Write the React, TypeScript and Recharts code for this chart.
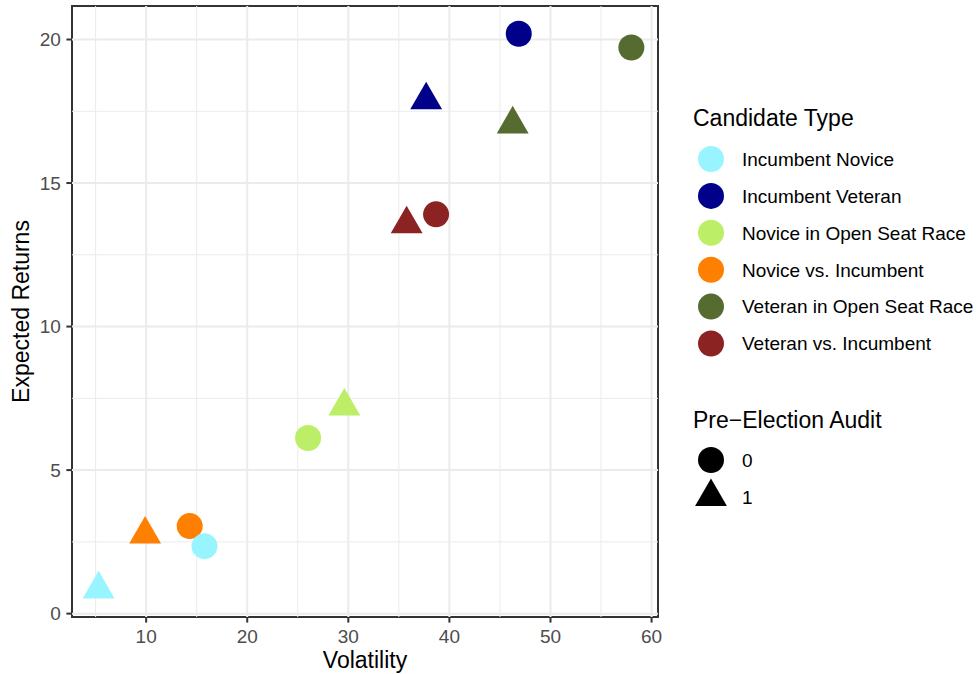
import React from 'react';
import { ScatterChart, Scatter, XAxis, YAxis, ReferenceLine, ReferenceArea } from 'recharts';

const categories = [
  'Incumbent Novice',
  'Incumbent Veteran',
  'Novice in Open Seat Race',
  'Novice vs. Incumbent',
  'Veteran in Open Seat Race',
  'Veteran vs. Incumbent',
];
const colors = ['#98F5FF', '#00008B', '#BCEE68', '#FF7F00', '#556B2F', '#8B2323'];

// Pre-Election Audit = 0 (circles)
const volatilityNoAudit = [15.77, 46.86, 26.02, 14.31, 58.0, 38.68];
const returnsNoAudit = [2.35, 20.2, 6.12, 3.05, 19.72, 13.91];
// Pre-Election Audit = 1 (triangles)
const volatilityAudit = [5.3, 37.7, 29.61, 9.9, 46.26, 35.77];
const returnsAudit = [0.85, 17.89, 7.22, 2.76, 17.05, 13.57];

const auditLevels = ['0', '1'];
const drawOrder = [3, 0, 1, 2, 4, 5];

const xTicks = [10, 20, 30, 40, 50, 60];
const xMinor = [5, 15, 25, 35, 45, 55];
const yTicks = [0, 5, 10, 15, 20];
const yMinor = [2.5, 7.5, 12.5, 17.5];

const FONT = '"Liberation Sans", Arial, Helvetica, sans-serif';
const LABEL_SIZE = 19;
const TITLE_SIZE = 23;

const expand = (vals: number[]): [number, number] => {
  const lo = Math.min(...vals);
  const hi = Math.max(...vals);
  const w = hi - lo;
  return [lo - 0.05 * w, hi + 0.05 * w];
};
const xDomain = expand([...volatilityNoAudit, ...volatilityAudit]);
const yDomain = expand([...returnsNoAudit, ...returnsAudit]);

const CIRCLE_R = 13;
const TRI_R = 18.4;

const circleShape = (fill: string) => (props: any) => (
  <circle cx={props.cx} cy={props.cy} r={CIRCLE_R} fill={fill} />
);
const triPoints = (cx: number, cy: number) => {
  const h = (TRI_R * Math.sqrt(3)) / 2;
  return `${cx},${cy - TRI_R} ${cx + h},${cy + TRI_R / 2} ${cx - h},${cy + TRI_R / 2}`;
};
const triangleShape = (fill: string) => (props: any) => (
  <polygon points={triPoints(props.cx, props.cy)} fill={fill} />
);

const LegendOverlay = () => {
  const keyX = 711;
  const textX = 742;
  const firstY = 159;
  const step = 36.9;
  const auditTop = 460;
  return (
    <svg
      width={977}
      height={674}
      style={{ position: 'absolute', left: 0, top: 0, pointerEvents: 'none' }}
      fontFamily={FONT}
    >
      <text x={693} y={126} fontSize={TITLE_SIZE} fill="#000">Candidate Type</text>
      {categories.map((c, i) => (
        <g key={c}>
          <circle cx={keyX} cy={firstY + i * step} r={CIRCLE_R} fill={colors[i]} />
          <text x={textX} y={firstY + i * step + 6.8} fontSize={LABEL_SIZE} fill="#000">{c}</text>
        </g>
      ))}
      <text x={693} y={428} fontSize={TITLE_SIZE} fill="#000">Pre−Election Audit</text>
      {auditLevels.map((a, i) => (
        <g key={a}>
          {i === 0 ? (
            <circle cx={keyX} cy={auditTop + i * step} r={CIRCLE_R} fill="#000" />
          ) : (
            <polygon points={triPoints(keyX, auditTop + i * step)} fill="#000" />
          )}
          <text x={textX} y={auditTop + i * step + 6.8} fontSize={LABEL_SIZE} fill="#000">{a}</text>
        </g>
      ))}
    </svg>
  );
};

export default function App() {
  return (
    <div style={{ position: 'absolute', left: 0, top: 0, width: 977, height: 674, background: '#fff', fontFamily: FONT }}>
      <ScatterChart width={977} height={674} margin={{ top: 6, right: 319, bottom: 0, left: 0 }}>
        <XAxis
          type="number"
          dataKey="x"
          domain={xDomain}
          ticks={xTicks}
          allowDataOverflow
          axisLine={false}
          tickLine={{ stroke: '#333333', strokeWidth: 2 }}
          tickSize={5.6}
          tickMargin={6.5}
          tick={{ fill: '#4D4D4D', fontSize: LABEL_SIZE, fontFamily: FONT }}
          height={57}
          label={{ value: 'Volatility', position: 'insideBottom', offset: 5.7, fill: '#000', fontSize: TITLE_SIZE, fontFamily: FONT }}
        />
        <YAxis
          type="number"
          dataKey="y"
          domain={yDomain}
          ticks={yTicks}
          allowDataOverflow
          axisLine={false}
          tickLine={{ stroke: '#333333', strokeWidth: 2 }}
          tickSize={5.6}
          tickMargin={5.6}
          tick={{ fill: '#4D4D4D', fontSize: LABEL_SIZE, fontFamily: FONT }}
          width={72}
          label={{ value: 'Expected Returns', angle: -90, position: 'insideLeft', offset: 21, fill: '#000', fontSize: TITLE_SIZE, fontFamily: FONT, style: { textAnchor: 'middle' } }}
        />
        {xMinor.map((v) => (
          <ReferenceLine key={'xm' + v} x={v} stroke="#EBEBEB" strokeWidth={1} />
        ))}
        {yMinor.map((v) => (
          <ReferenceLine key={'ym' + v} y={v} stroke="#EBEBEB" strokeWidth={1} />
        ))}
        {xTicks.map((v) => (
          <ReferenceLine key={'xM' + v} x={v} stroke="#EBEBEB" strokeWidth={2} />
        ))}
        {yTicks.map((v) => (
          <ReferenceLine key={'yM' + v} y={v} stroke="#EBEBEB" strokeWidth={2} />
        ))}
        <ReferenceArea
          x1={xDomain[0]}
          x2={xDomain[1]}
          y1={yDomain[0]}
          y2={yDomain[1]}
          fill="none"
          fillOpacity={0}
          stroke="#333333"
          strokeWidth={2}
          strokeOpacity={1}
          ifOverflow="visible"
        />
        {drawOrder.map((i) => (
          <Scatter
            key={'tri' + i}
            name={categories[i] + ' 1'}
            data={[{ x: volatilityAudit[i], y: returnsAudit[i] }]}
            fill={colors[i]}
            shape={triangleShape(colors[i])}
            isAnimationActive={false}
          />
        ))}
        {drawOrder.map((i) => (
          <Scatter
            key={'circ' + i}
            name={categories[i] + ' 0'}
            data={[{ x: volatilityNoAudit[i], y: returnsNoAudit[i] }]}
            fill={colors[i]}
            shape={circleShape(colors[i])}
            isAnimationActive={false}
          />
        ))}
      </ScatterChart>
      <LegendOverlay />
    </div>
  );
}
